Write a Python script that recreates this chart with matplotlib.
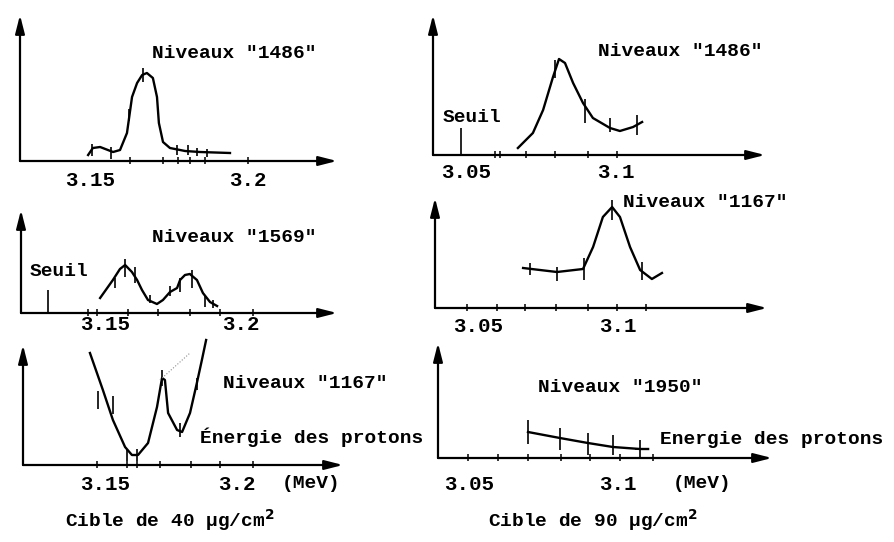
import matplotlib
matplotlib.use("Agg")
import matplotlib.pyplot as plt
import numpy as np

plt.rcParams['font.family'] = ['Liberation Mono', 'DejaVu Sans']
plt.rcParams['font.weight'] = 'bold'

W, H = 894, 542

# ---- data (energy in MeV, yield in arbitrary units) ----
# panel 1 : cible 40, niveau 1486
e1 = [3.1494, 3.1509, 3.1532, 3.1573, 3.1595, 3.1617, 3.1633, 3.1649, 3.1665,
      3.1680, 3.1699, 3.1712, 3.1718, 3.1731, 3.1753, 3.1801, 3.1848, 3.1943]
y1 = [6, 13, 14, 9, 11, 28, 64, 78, 86, 88, 83, 64, 38, 19, 13, 10, 9, 8]
ex1 = [3.1506, 3.1566, 3.1623, 3.1668, 3.1775, 3.1810, 3.1839, 3.1870]
ey1 = [11, 8, 46, 86, 11, 11, 9, 8]
es1 = [6, 6, 6, 7, 5, 5, 4, 4]
tk1 = [3.1627, 3.1731, 3.1778, 3.1816, 3.1864, 3.2000]

# panel 2 : cible 40, niveau 1569
e2 = [3.1482, 3.1529, 3.1555, 3.1574, 3.1599, 3.1618, 3.1636, 3.1658, 3.1691, 3.1713,
      3.1739, 3.1765, 3.1776, 3.1794, 3.1812, 3.1838, 3.1860, 3.1886, 3.1912]
y2 = [15, 33, 44, 48, 41, 33, 23, 13, 9, 13, 21, 25, 33, 38, 39, 33, 20, 11, 7]
ex2 = [3.1537, 3.1574, 3.1610, 3.1665, 3.1739, 3.1776, 3.1820, 3.1868, 3.1897]
ey2 = [30, 45, 38, 14, 22, 28, 34, 12, 9]
es2 = [5, 9, 8, 4, 5, 7, 9, 6, 4]
tk2 = [3.1438, 3.1471, 3.1585, 3.1695, 3.1812, 3.1923, 3.2044]
seuil2 = 3.1290

# panel 3 : cible 40, niveau 1167
e3 = [3.1443, 3.1492, 3.1530, 3.1576, 3.1602, 3.1625, 3.1663, 3.1697, 3.1716,
      3.1727, 3.1739, 3.1773, 3.1792, 3.1822, 3.1848, 3.1867, 3.1883]
y3 = [112, 75, 45, 18, 10, 10, 22, 58, 87, 85, 52, 35, 33, 52, 82, 105, 125]
ex3 = [3.1473, 3.1530, 3.1583, 3.1621, 3.1716, 3.1784, 3.1848]
ey3 = [65, 60, 10, 10, 87, 35, 81]
es3 = [9, 9, 6, 6, 8, 7, 6]
tk3 = [3.1470, 3.1583, 3.1621, 3.1708, 3.1826, 3.1936, 3.2061]

# panel 4 : cible 90, niveau 1486
e4 = [3.0673, 3.0723, 3.0757, 3.0790, 3.0810, 3.0830, 3.0857, 3.0890, 3.0923,
      3.0980, 3.1013, 3.1057, 3.1087]
y4 = [7, 22, 45, 78, 96, 92, 72, 52, 37, 27, 24, 28, 33]
ex4 = [3.0797, 3.0897, 3.0980, 3.1070]
ey4 = [86, 44, 30, 30]
es4 = [9, 12, 7, 10]
tk4 = [3.0597, 3.0613, 3.0700, 3.0797, 3.0907, 3.1003]
seuil4 = 3.0483

# panel 5 : cible 90, niveau 1167
e5 = [3.0661, 3.0782, 3.0875, 3.0911, 3.0946, 3.0979, 3.1007, 3.1043, 3.1079, 3.1121, 3.1157]
y5 = [40, 36, 39, 61, 91, 101, 91, 61, 38, 29, 35]
ex5 = [3.0686, 3.0782, 3.0879, 3.0979, 3.1086]
ey5 = [39, 34, 39, 98, 37]
es5 = [6, 7, 11, 10, 9]
tk5 = [3.0461, 3.0568, 3.0668, 3.0779, 3.0893, 3.0996, 3.1100]

# panel 6 : cible 90, niveau 1950
e6 = [3.0698, 3.0805, 3.0899, 3.0983, 3.1074, 3.1101]
y6 = [26, 20, 15, 11, 9, 9]
ex6 = [3.0698, 3.0805, 3.0899, 3.0983, 3.1074]
ey6 = [26, 19, 14, 13, 9]
es6 = [12, 11, 11, 10, 9]
tk6 = [3.0497, 3.0597, 3.0698, 3.0809, 3.0906, 3.1007, 3.1117]

fig = plt.figure(figsize=(W / 100, H / 100), dpi=100)
fig.patch.set_facecolor('white')


def panel(x0, x1, ytop, yax, e_ref, px_ref, k):
    # axes placed in pixel box, x scale in MeV, y in pixel-like units
    ax = fig.add_axes([x0 / W, 1 - yax / H, (x1 - x0) / W, (yax - ytop) / H])
    ax.set_xlim(e_ref + (x0 - px_ref) / k, e_ref + (x1 - px_ref) / k)
    ax.set_ylim(0, yax - ytop)
    ax.axis('off')
    arr = dict(arrowstyle='-|>,head_length=1.1,head_width=0.28', lw=1.6,
               color='k', shrinkA=0, shrinkB=0)
    ax.annotate('', xy=(1, 0), xytext=(0, 0), xycoords='axes fraction', arrowprops=arr)
    ax.annotate('', xy=(0, 1), xytext=(0, 0), xycoords='axes fraction', arrowprops=arr)
    return ax


def draw(ax, e, y, ex, ey, es, tk):
    ax.plot(e, y, color='k', lw=1.7, clip_on=False, solid_joinstyle='round')
    ax.errorbar(ex, ey, yerr=es, fmt='none', ecolor='k', elinewidth=1.2, capsize=0, clip_on=False)
    ax.vlines(tk, -3, 4, color='k', lw=1.1, clip_on=False)


def ticklab(ax, vals, labels, dy):
    for v, s in zip(vals, labels):
        ax.text(v, -dy, s, ha='center', va='center', fontsize=15, clip_on=False)


ax1 = panel(20, 337, 15, 161, 3.15, 90, 3160)
draw(ax1, e1, y1, ex1, ey1, es1, tk1)
ticklab(ax1, [3.15, 3.2], ['3.15', '3.2'], 19)

ax2 = panel(21, 337, 210, 313, 3.15, 105, 2720)
draw(ax2, e2, y2, ex2, ey2, es2, tk2)
ax2.vlines(seuil2, 0, 23, color='k', lw=1.2)
ticklab(ax2, [3.15, 3.2], ['3.15', '3.2'], 12)

ax3 = panel(23, 343, 345, 465, 3.15, 105, 2640)
draw(ax3, e3, y3, ex3, ey3, es3, tk3)
ax3.plot([3.1708, 3.1822], [85, 112], color='0.55', lw=0.8, ls=':')
ticklab(ax3, [3.15, 3.2], ['3.15', '3.2'], 19)

ax4 = panel(433, 765, 15, 155, 3.05, 466, 3000)
draw(ax4, e4, y4, ex4, ey4, es4, tk4)
ax4.vlines(seuil4, 0, 27, color='k', lw=1.2)
ticklab(ax4, [3.05, 3.1], ['3.05', '3.1'], 18)

ax5 = panel(435, 767, 198, 308, 3.05, 478, 2800)
draw(ax5, e5, y5, ex5, ey5, es5, tk5)
ticklab(ax5, [3.05, 3.1], ['3.05', '3.1'], 19)

ax6 = panel(438, 772, 343, 458, 3.05, 469, 2980)
draw(ax6, e6, y6, ex6, ey6, es6, tk6)
ax6.hlines(9, 3.1057, 3.1101, color='k', lw=1.2)
ticklab(ax6, [3.05, 3.1], ['3.05', '3.1'], 26)


def label(x, y, s, size=14):
    fig.text(x / W, 1 - y / H, s, ha='left', va='center', fontsize=size)


label(152, 53, 'Niveaux "1486"')
label(152, 238, 'Niveaux "1569"')
label(30, 272, 'Seuil')
label(223, 383, 'Niveaux "1167"')
label(200, 437, 'Énergie des protons')
label(282, 484, '(MeV)')
label(65, 520, 'Cible de 40 μg/cm$^{\\mathbf{2}}$')

label(598, 52, 'Niveaux "1486"')
label(443, 117, 'Seuil')
label(623, 203, 'Niveaux "1167"')
label(538, 388, 'Niveaux "1950"')
label(660, 440, 'Energie des protons')
label(673, 484, '(MeV)')
label(488, 520, 'Cible de 90 μg/cm$^{\\mathbf{2}}$')

fig.savefig('out.png', dpi=100, facecolor='white')
